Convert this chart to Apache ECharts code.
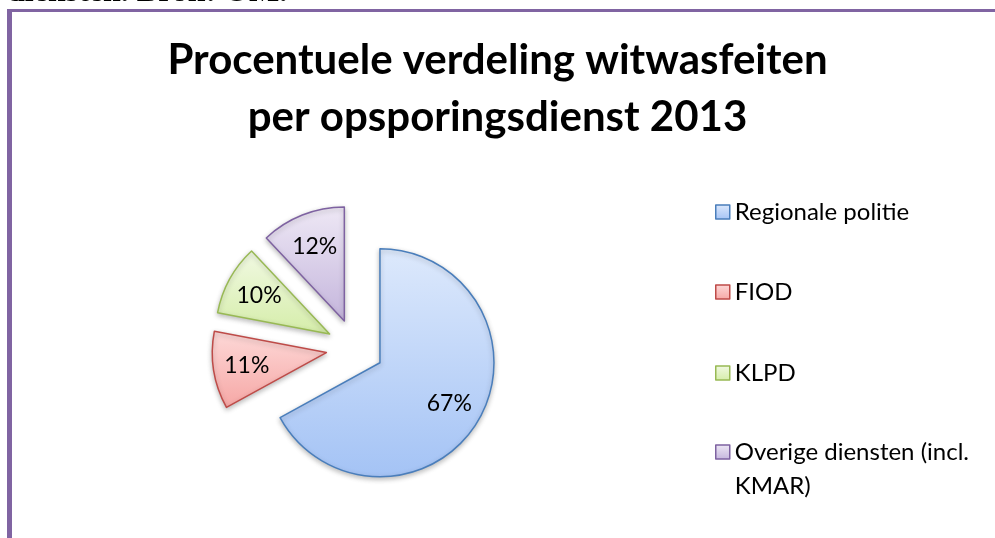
<!DOCTYPE html>
<html>
<head>
<meta charset="utf-8">
<script src="https://cdn.jsdelivr.net/npm/echarts@6/dist/echarts.min.js"></script>
<style>
  html, body { margin: 0; padding: 0; background: #fff; }
  #main { width: 995px; height: 538px; }
</style>
</head>
<body>
<div id="main"></div>
<script>
var myChart = echarts.init(document.getElementById('main'));

// Data: share of money laundering cases per investigation service, 2013 (%)
const services = ['Regionale politie', 'FIOD', 'KLPD', 'Overige diensten (incl. KMAR)'];
const shares = [67, 11, 10, 12];

// Gradient fills (top -> bottom) and outline colours per slice
const topColors = ['#dde9fc', '#fdd9d8', '#f1f9e3', '#eee8f5'];
const bottomColors = ['#a4c3f5', '#f6a7a5', '#d5eda9', '#c4b5dc'];
const borderColors = ['#4a7ebb', '#be4b48', '#98b954', '#7e62a1'];

const font = 'Lato, "Open Sans", sans-serif';
const pieRadius = 114;

// mid angle of each slice (clockwise from 12 o'clock), used to push labels outward
const total = shares.reduce((a, b) => a + b, 0);
let acc = 0;
const midAngles = shares.map(v => {
    const mid = (acc + v / 2) / total * Math.PI * 2;
    acc += v;
    return mid;
});

function gradient(i) {
    return new echarts.graphic.LinearGradient(0, 0, 0, 1, [
        { offset: 0, color: topColors[i] },
        { offset: 1, color: bottomColors[i] }
    ]);
}

// one legend block per item so the rows can sit where Excel put them
const legendTops = [200, 280, 361, 401];
const legends = services.map((name, i) => {
    const last = i === services.length - 1;
    return {
        data: [name],
        left: 715,
        top: legendTops[i],
        padding: 0,
        icon: 'rect',
        itemWidth: 14,
        itemHeight: 14,
        itemGap: 0,
        selectedMode: false,
        // blank first line keeps the icon level with "Overige ..." (text is centred on the icon)
        formatter: last ? '\nOverige diensten (incl.\nKMAR)' : '{name}',
        itemStyle: { borderWidth: 1.5, borderColor: borderColors[i] },
        textStyle: {
            fontFamily: font,
            fontSize: 24,
            color: '#000',
            lineHeight: last ? 34 : 22
        }
    };
});

var option = {
    backgroundColor: '#fff',
    animation: false,
    title: {
        text: 'Procentuele verdeling witwasfeiten\nper opsporingsdienst 2013',
        left: 'center',
        top: 32,
        padding: 0,
        textStyle: {
            fontFamily: font,
            fontSize: 42,
            fontWeight: 'bold',
            lineHeight: 57,
            color: '#000'
        }
    },
    legend: legends,
    graphic: [
        // page frame (purple border from the source document)
        { type: 'rect', shape: { x: 7, y: 9, width: 5, height: 540 }, style: { fill: '#8064a2' } },
        { type: 'rect', shape: { x: 7, y: 9, width: 990, height: 3 }, style: { fill: '#8064a2' } },
        // caption above the frame, cut off by the crop
        {
            type: 'text',
            style: {
                x: 7, y: 9,
                verticalAlign: 'bottom',
                text: 'diensten. Bron: OM.',
                font: 'bold 32px "Liberation Serif", "DejaVu Serif", serif',
                fill: '#000'
            }
        }
    ],
    series: [
        {
            type: 'pie',
            center: [355, 348],
            radius: [0, pieRadius],
            startAngle: 90,
            clockwise: true,
            selectedMode: 'multiple',
            selectedOffset: 29,
            avoidLabelOverlap: false,
            silent: true,
            data: shares.map((v, i) => ({
                name: services[i],
                value: v,
                selected: true,
                itemStyle: {
                    color: gradient(i),
                    borderColor: borderColors[i],
                    borderWidth: 1.5,
                    shadowBlur: 5,
                    shadowColor: 'rgba(0,0,0,0.25)',
                    shadowOffsetY: 2
                }
            })),
            label: {
                show: true,
                position: 'inside',
                formatter: '{c}%',
                fontFamily: font,
                fontSize: 23,
                color: '#000'
            },
            labelLine: { show: false },
            labelLayout: function (params) {
                const k = 0.18 * pieRadius;
                const a = midAngles[params.dataIndex];
                return { dx: k * Math.sin(a), dy: -k * Math.cos(a) };
            },
            emphasis: { disabled: true }
        }
    ]
};

myChart.setOption(option);
</script>
</body>
</html>
